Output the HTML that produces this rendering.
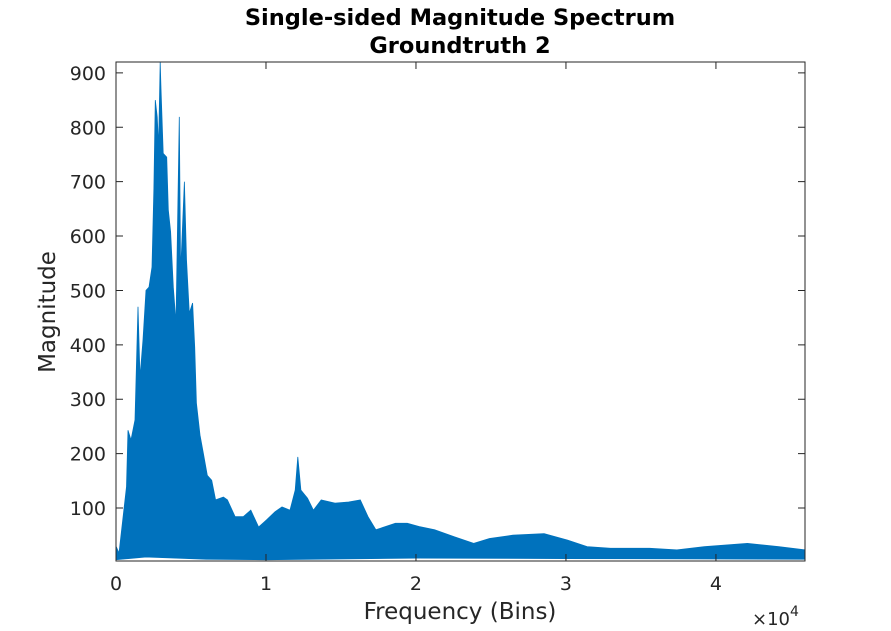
<!DOCTYPE html>
<html><head><meta charset="utf-8"><style>
body{margin:0;background:#fff;}
svg{display:block;font-family:"DejaVu Sans","Liberation Sans",sans-serif;}
</style></head><body>
<svg id="chart" width="891" height="631" viewBox="0 0 891 631" xmlns="http://www.w3.org/2000/svg">
<rect x="0" y="0" width="891" height="631" fill="#fff"/>
<text x="460" y="25" text-anchor="middle" font-size="22.5" font-weight="bold" fill="#000">Single-sided Magnitude Spectrum</text>
<text x="460" y="53" text-anchor="middle" font-size="22.5" font-weight="bold" fill="#000">Groundtruth 2</text>
<g id="plot"></g>
<rect x="116" y="62" width="689" height="499" fill="none" stroke="#262626" stroke-width="1"/>
<g id="ticks"></g>
<text x="460" y="619" text-anchor="middle" font-size="23" fill="#262626">Frequency (Bins)</text>
<text transform="translate(55,312) rotate(-90)" text-anchor="middle" font-size="23" fill="#262626">Magnitude</text>
<text x="752" y="625" font-size="18" fill="#262626">×10<tspan dy="-9" font-size="14">4</tspan></text>
</svg>
<script>
const bins = [0,1,200,700,800,1000,1270,1470,1600,1800,2000,2200,2400,2530,2620,2750,2840,2950,3000,3150,3380,3490,3640,3820,4000,4220,4310,4560,4700,4890,5110,5250,5360,5600,5820,6090,6380,6640,7160,7430,7940,8490,8990,9510,10030,10600,11070,11600,11950,12120,12330,12770,13160,13680,14600,15510,16290,16800,17330,18630,19420,20200,21240,22550,23850,24900,26460,28540,30110,31410,32970,35580,37400,39230,42100,44190,45930];
const upper = [414,30,17,139,243,225,262,470,340,409,500,506,543,688,850,819,763,920,870,752,745,648,608,506,440,819,532,700,556,458,477,396,293,234,201,160,151,115,120,115,84,84,96,65,78,93,102,96,133,194,133,118,96,115,109,111,115,84,60,72,72,66,60,47,35,44,50,53,41,29,26,26,23,29,35,29,23];
const lowerBins = [0,2000,4000,6000,10000,20000,30000,45938];
const lower = [5,10,8,6,5,8,7,6];
const xTicks = [0,10000,20000,30000,40000];
const xTickLabels = ["0","1","2","3","4"];
const yTicks = [100,200,300,400,500,600,700,800,900];
const X0=116,X1=805,Y0=561,Y1=62,xMin=0,xMax=45938,yMin=2.6,yMax=920;
function sx(v){return X0+(v-xMin)/(xMax-xMin)*(X1-X0);}
function sy(v){return Y0-(v-yMin)/(yMax-yMin)*(Y0-Y1);}
const NS="http://www.w3.org/2000/svg";
const plot=document.getElementById('plot');
let pts=[];
for(let i=0;i<bins.length;i++)pts.push(sx(bins[i]).toFixed(1)+','+sy(upper[i]).toFixed(1));
for(let i=lowerBins.length-1;i>=0;i--)pts.push(sx(lowerBins[i]).toFixed(1)+','+sy(lower[i]).toFixed(1));
const poly=document.createElementNS(NS,'polygon');


poly.setAttribute('points',pts.join(' '));
poly.setAttribute('fill','#0072BD');
poly.setAttribute('stroke','#0072BD');
poly.setAttribute('stroke-width','0.8');
plot.appendChild(poly);
const ticks=document.getElementById('ticks');
xTicks.forEach((t,i)=>{
  const x=sx(t);
  const a=document.createElementNS(NS,'path');
  
  
  a.setAttribute('d',`M${x},${Y0}V${Y0-7}M${x},${Y1}V${Y1+7}`);
  a.setAttribute('stroke','#262626');
  ticks.appendChild(a);
  const l=document.createElementNS(NS,'text');
  
  
  l.setAttribute('x',x);l.setAttribute('y',590);
  l.setAttribute('text-anchor','middle');l.setAttribute('font-size','19');l.setAttribute('fill','#262626');
  l.textContent=xTickLabels[i];
  ticks.appendChild(l);
});
yTicks.forEach(t=>{
  const y=sy(t);
  const a=document.createElementNS(NS,'path');
  
  
  a.setAttribute('d',`M${X0},${y}H${X0+7}M${X1},${y}H${X1-7}`);
  a.setAttribute('stroke','#262626');
  ticks.appendChild(a);
  const l=document.createElementNS(NS,'text');
  
  
  l.setAttribute('x',106);l.setAttribute('y',y+7);
  l.setAttribute('text-anchor','end');l.setAttribute('font-size','19');l.setAttribute('fill','#262626');
  l.textContent=t;
  ticks.appendChild(l);
});
</script>
</body></html>
